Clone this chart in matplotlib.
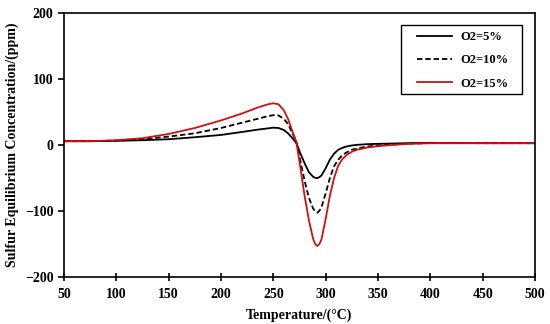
import matplotlib
matplotlib.use("Agg")
import matplotlib.pyplot as plt
from matplotlib.patches import Rectangle

temps = [50, 75, 100, 125, 150, 175, 200, 220, 235, 245, 250, 255, 260, 264, 268, 272, 276,
         280, 284, 288, 290, 292, 294, 296, 300, 304, 308, 312, 316, 320, 325, 330, 340, 350,
         365, 380, 400, 450, 500]
o2_5 = [6, 6, 6.5, 7.5, 9, 12, 15.5, 20, 23.5, 25.5, 26.5, 26, 23, 18, 11, 3, -13,
        -28, -41, -48, -49.5, -50, -48.5, -46, -35, -22, -13, -7, -4, -2, -0.5, 0.5, 1.5, 2,
        2.5, 3, 3.5, 3, 3]
o2_10 = [6, 6, 7, 9, 13, 18, 26, 34, 40, 44, 45.5, 45, 40, 32, 19, 5, -25,
         -55, -80, -96, -100.5, -102.5, -99.5, -94, -73, -50, -32, -22, -15, -11, -7, -5, -2, -0.5,
         1, 2.5, 3, 3, 3]
o2_15 = [6, 6, 7.5, 10.5, 17, 26, 37.5, 48, 57, 62, 63.5, 62, 53, 40, 22, 5, -36,
         -78, -114, -142, -150, -153, -150, -143, -112, -77, -50, -31, -21, -15, -10, -7, -3.5, -1.5,
         0.5, 2, 3, 3, 3]
labels = ["O2=5%", "O2=10%", "O2=15%"]
xticks = [50, 100, 150, 200, 250, 300, 350, 400, 450, 500]
yticks = [-200, -100, 0, 100, 200]

plt.rcParams['font.family'] = ['Liberation Serif', 'DejaVu Serif']
plt.rcParams['font.weight'] = 'bold'

fig = plt.figure(figsize=(5.5, 3.24), dpi=100)
ax = fig.add_axes([64/550, 1-277/324, (535-64)/550, (277-13.3)/324])

ax.plot(temps, o2_5, color='black', lw=1.3, label=labels[0])
ax.plot(temps, o2_10, color='black', lw=1.3, ls=(0, (3, 1.6)), label=labels[1])
ax.plot(temps, o2_15, color='#d01010', lw=1.3, label=labels[2])

ax.set_xlim(50, 500)
ax.set_ylim(-200, 200)
ax.set_xticks(xticks)
ax.set_yticks(yticks)
ax.tick_params(axis='x', direction='inout', length=6, width=1.2, labelsize=10, pad=5)
ax.tick_params(axis='y', direction='out', length=4, width=1.2, labelsize=10)
for lab in ax.get_xticklabels() + ax.get_yticklabels():
    lab.set_fontweight('bold')
for s in ax.spines.values():
    s.set_linewidth(1.2)

ax.set_xlabel("Temperature/(\u00b0C)", fontsize=10, fontweight='bold', labelpad=5)
ax.set_ylabel("Sulfur Equilibrium Concentration/(ppm)", fontsize=10, fontweight='bold', labelpad=4)

# legend frame box
ax.add_patch(Rectangle((0.7155, 0.6928), 0.9724 - 0.7155, 0.9556 - 0.6928,
                       transform=ax.transAxes, fill=False, edgecolor='black', lw=1.0,
                       zorder=5))
leg = ax.legend(loc='upper left', bbox_to_anchor=(0.749, 0.932), fontsize=9,
                frameon=False, handlelength=2.8, borderpad=0, labelspacing=0.9,
                handletextpad=0.66, borderaxespad=0)
for t in leg.get_texts():
    t.set_fontweight('bold')

fig.savefig("out.png", dpi=100)
